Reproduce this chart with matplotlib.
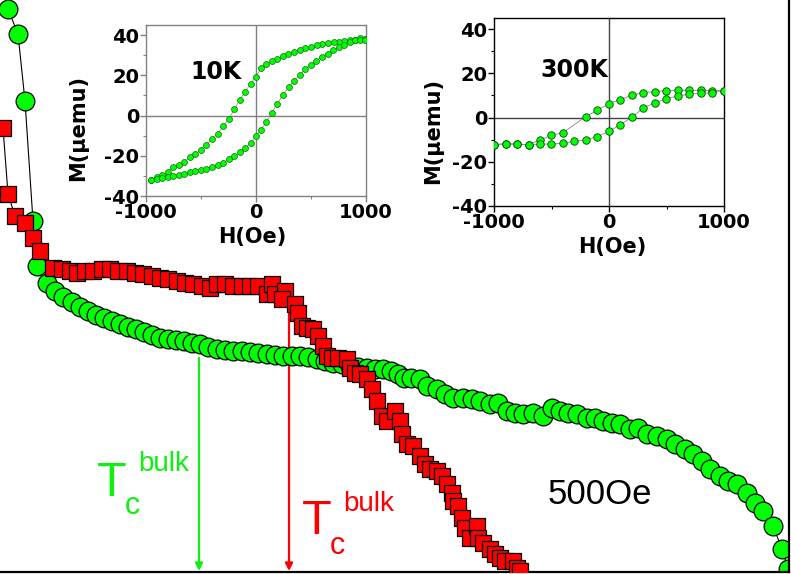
import matplotlib
matplotlib.use("Agg")
import matplotlib.pyplot as plt
from matplotlib.ticker import MultipleLocator

plt.rcParams["axes.unicode_minus"] = False

# main panel: M(T) at 500 Oe (arbitrary units)
green_T = [4, 9, 12.5, 16.5, 18.5, 23.5, 27.5, 31.5, 36, 40,
           44, 48, 52, 56, 60, 64, 68, 72, 76, 80,
           84, 88, 92, 96, 100, 104, 108.5, 112.5, 116.5, 121,
           125, 129, 133.5, 137.5, 141.5, 146, 150, 154, 158.5, 162.5,
           166.5, 171, 175, 179, 183.5, 187.5, 191.5, 195.5, 199, 202,
           205.5, 210, 213.5, 218.5, 222.5, 226.5, 231.5, 236, 240, 245,
           249, 253.5, 257.5, 261.5, 266.5, 271.5, 276, 280, 284, 288.5,
           293.5, 297.5, 301.5, 306, 310, 315, 319, 323.5, 328.5, 333.5,
           337.5, 342.5, 346.5, 351, 355, 360, 364, 368.5, 373.5, 377.5,
           381.5, 386.5, 391, 394]
green_M = [56.3, 53.8, 47.1, 35.1, 30.6, 28.9, 28.1, 27.5, 27.0, 26.5,
           26.1, 25.7, 25.4, 25.1, 24.8, 24.5, 24.3, 24.0, 23.7, 23.4,
           23.3, 23.2, 23.1, 22.9, 22.8, 22.5, 22.3, 22.2, 22.1, 22.1,
           22.0, 21.9, 21.8, 21.7, 21.6, 21.6, 21.6, 21.5, 21.3, 21.1,
           20.9, 20.8, 20.6, 20.5, 20.4, 20.3, 20.3, 20.1, 19.8, 19.4,
           19.4, 19.3, 18.6, 18.3, 17.8, 17.4, 17.4, 17.3, 17.1, 16.8,
           16.9, 16.1, 15.9, 15.8, 15.9, 15.6, 16.4, 16.1, 15.9, 15.8,
           15.4, 15.4, 15.1, 14.9, 14.8, 14.3, 14.4, 13.8, 13.6, 13.3,
           12.8, 12.3, 11.8, 11.1, 10.3, 9.6, 9.1, 8.8, 7.9, 6.9,
           6.1, 4.6, 2.3, 0.3]

red_T = [1.5, 4, 7.5, 12.5, 16.5, 20, 26.5, 31, 35, 38.5,
         42.5, 46.5, 51, 55, 59, 63.5, 67.5, 71.5, 76, 80,
         84, 88.5, 92.5, 96.5, 101, 105, 108.5, 112.5, 116.5, 121,
         125, 129, 133.5, 136, 137.5, 142.5, 141, 147.5, 149, 151,
         153.5, 156.5, 159, 161.5, 163.5, 166, 169, 173.5, 175, 177.5,
         180, 183.5, 186, 188.5, 191, 193.5, 197.5, 200, 201, 203.5,
         206.5, 210, 212.5, 215, 218.5, 221, 223.5, 226, 226.5, 229,
         231, 232.5, 235, 238.5, 239, 241.5, 245, 247.5, 250, 252.5,
         256.5, 258.5, 260]
red_M = [44.4, 37.8, 35.6, 34.9, 33.4, 32.1, 30.4, 30.3, 30.1, 29.9,
         30.1, 30.1, 30.3, 30.3, 30.1, 30.1, 29.9, 29.8, 29.6, 29.4,
         29.3, 29.1, 28.9, 28.8, 28.6, 28.4, 28.8, 28.8, 28.6, 28.6,
         28.6, 28.6, 27.8, 28.8, 27.8, 28.1, 27.3, 26.8, 25.9, 24.6,
         24.4, 24.3, 23.6, 22.6, 21.6, 21.4, 21.4, 21.3, 20.4, 19.9,
         19.8, 19.3, 18.3, 17.1, 15.6, 15.1, 16.1, 15.1, 13.8, 12.8,
         12.6, 11.6, 10.8, 10.3, 10.1, 9.6, 8.8, 7.9, 7.1, 6.6,
         5.4, 4.4, 3.4, 4.6, 3.4, 2.9, 2.3, 1.8, 1.4, 1.1,
         1.1, 0.4, 0.1]

# bulk Tc arrows: (T, M where the arrow starts)
tc_green = (99.5, 21.4)
tc_red = (144.5, 27.1)

# inset 1: 10 K loop, H in Oe, M in uemu
h10_down = [989, 944, 898, 853, 804, 759, 707, 656, 604, 552, 501, 449, 398, 346,
            294, 243, 191, 143, 94, 46, 0, -49, -97, -149, -197, -249, -300, -349,
            -401, -452, -501, -552, -604, -653, -704, -756, -804, -856, -901, -953]
m10_down = [38.0, 38.3, 37.7, 37.4, 37.0, 36.7, 36.4, 35.9, 35.4, 34.9, 34.0, 33.4,
            32.6, 31.4, 30.6, 29.4, 28.3, 27.1, 25.6, 23.6, 19.2, 15.9, 11.9, 7.8,
            3.0, -1.8, -5.3, -9.1, -11.9, -14.5, -17.0, -19.0, -20.8, -23.1, -24.6,
            -25.5, -28.1, -29.6, -30.7, -32.2]
h10_up = [-953, -901, -856, -804, -756, -704, -653, -604, -552, -501, -452, -401,
          -349, -300, -249, -197, -149, -97, -49, 0, 46, 94, 143, 194, 246, 297, 346,
          398, 446, 498, 549, 598, 650, 701, 750, 801, 850, 898, 944, 989]
m10_up = [-32.2, -31.7, -31.1, -30.7, -30.1, -29.6, -29.1, -28.3, -27.8, -27.3,
          -26.4, -25.6, -24.6, -23.5, -21.8, -20.2, -18.3, -16.2, -13.6, -10.2, -7.1,
          -3.3, 1.3, 5.9, 10.4, 14.0, 17.4, 20.0, 23.1, 25.3, 27.1, 29.1, 30.7, 32.4,
          34.0, 35.0, 36.4, 37.4, 37.7, 37.7]

# inset 2: 300 K loop
h300_down = [998, 897, 796, 695, 596, 498, 399, 298, 200, 98, 0, -101, -200,
             -399, -501, -599, -700, -802, -900, -996]
m300_down = [12.2, 12.2, 12.3, 12.3, 12.3, 12.2, 11.7, 11.3, 10.1, 8.1, 6.3, 3.3,
             0.45, -6.8, -8.1, -10.1, -12.3, -12.0, -11.9, -12.2]
h300_up = [-996, -900, -802, -700, -599, -501, -399, -301, -200, -101, 0, 98, 200,
           298, 399, 498, 596, 695, 796, 897, 998]
m300_up = [-12.2, -11.9, -12.0, -12.3, -12.0, -12.0, -11.6, -10.8, -10.1, -8.6,
           -6.3, -3.2, 0.15, 4.4, 6.6, 8.5, 9.7, 10.6, 11.0, 11.2, 12.0]

GREEN = "#00ff00"
TC_GREEN = "#11ee11"
RED = "#ff0000"
SANS = "Liberation Sans"
BOLD = "DejaVu Sans"

fig = plt.figure(figsize=(7.91, 5.74), dpi=100)

ax = fig.add_axes([0.0, 2 / 574, 789 / 791, 572 / 574])
ax.plot(green_T, green_M, "-", color="black", lw=0.8, marker="o", ms=13.5,
        mfc=GREEN, mec="black", mew=0.9, zorder=2)
ax.plot(red_T, red_M, "-", color="black", lw=0.8, marker="s", ms=12,
        mfc=RED, mec="black", mew=0.9, zorder=3)
ax.set_xlim(0, 394.5)
ax.set_ylim(0, 57.2)
ax.set_xticks([])
ax.set_yticks([])
ax.spines["left"].set_visible(False)
ax.spines["top"].set_visible(False)
ax.spines["right"].set_linewidth(1.6)
ax.spines["bottom"].set_linewidth(1.6)

for (tc, m0), col in [(tc_green, TC_GREEN), (tc_red, RED)]:
    ax.annotate("", xy=(tc, 0.1), xytext=(tc, m0),
                arrowprops=dict(arrowstyle="-|>", color=col, lw=1.6,
                                mutation_scale=11, shrinkA=0, shrinkB=0),
                zorder=1)

# Tc^bulk labels
ax.text(48.5, 7.6, "T", color=TC_GREEN, fontsize=35, family=SANS, va="baseline")
ax.text(62.5, 5.8, "c", color=TC_GREEN, fontsize=22, family=SANS, va="baseline")
ax.text(69, 10.1, "bulk", color=TC_GREEN, fontsize=20, family=SANS, va="baseline")
ax.text(151, 3.8, "T", color=RED, fontsize=35, family=SANS, va="baseline")
ax.text(165, 1.8, "c", color=RED, fontsize=22, family=SANS, va="baseline")
ax.text(171.5, 6.1, "bulk", color=RED, fontsize=20, family=SANS, va="baseline")
ax.text(274, 6.8, "500Oe", color="black", fontsize=25, family=SANS, va="baseline")


def inset(rect, ylim, frame_col, zero_col, xlab_pos, ylab_pos):
    a = fig.add_axes(rect)
    a.set_xlim(-1000, 1000)
    a.set_ylim(*ylim)
    a.set_xticks([-1000, 0, 1000])
    a.set_yticks([-40, -20, 0, 20, 40])
    a.xaxis.set_minor_locator(MultipleLocator(500))
    a.yaxis.set_minor_locator(MultipleLocator(10))
    a.tick_params(which="major", direction="out", length=4, width=1,
                  color=frame_col, pad=1, labelsize=14)
    a.tick_params(which="minor", direction="out", length=2, width=0.8,
                  color=frame_col)
    for lab in a.get_xticklabels() + a.get_yticklabels():
        lab.set_fontweight("bold")
        lab.set_family(BOLD)
    for s in a.spines.values():
        s.set_color(frame_col)
        s.set_linewidth(1.0)
    a.axhline(0, color=zero_col, lw=1, zorder=1)
    a.axvline(0, color=zero_col, lw=1, zorder=1)
    a.set_xlabel("H(Oe)", fontsize=15, fontweight="bold", family=BOLD)
    a.set_ylabel("M(\u03bcemu)", fontsize=15, fontweight="bold", family=BOLD)
    a.xaxis.set_label_coords(*xlab_pos)
    a.yaxis.set_label_coords(*ylab_pos)
    return a


ax1 = inset([146 / 791, 1 - 196 / 574, 220 / 791, 171 / 574], (-39.5, 45),
            "#808080", "#808080", (0.482, -0.18), (-0.265, 0.40))
for h, m in [(h10_down, m10_down), (h10_up, m10_up)]:
    ax1.plot(h, m, "-", color="#888888", lw=0.5, marker="o", ms=4.3,
             mfc=GREEN, mec="#116611", mew=0.5, zorder=3)
ax1.text(-364, 21.7, "10K", fontsize=17, fontweight="bold", family=BOLD,
         ha="center", va="center")

ax2 = inset([494 / 791, 1 - 206 / 574, 230 / 791, 188 / 574], (-39.8, 45),
            "black", "#444444", (0.513, -0.165), (-0.222, 0.40))
for h, m in [(h300_down, m300_down), (h300_up, m300_up)]:
    ax2.plot(h, m, "-", color="#888888", lw=0.6, marker="o", ms=5.4,
             mfc=GREEN, mec="#114411", mew=0.6, zorder=3)
ax2.text(-298, 21.5, "300K", fontsize=17, fontweight="bold", family=BOLD,
         ha="center", va="center")

fig.savefig("out.png", dpi=100)
